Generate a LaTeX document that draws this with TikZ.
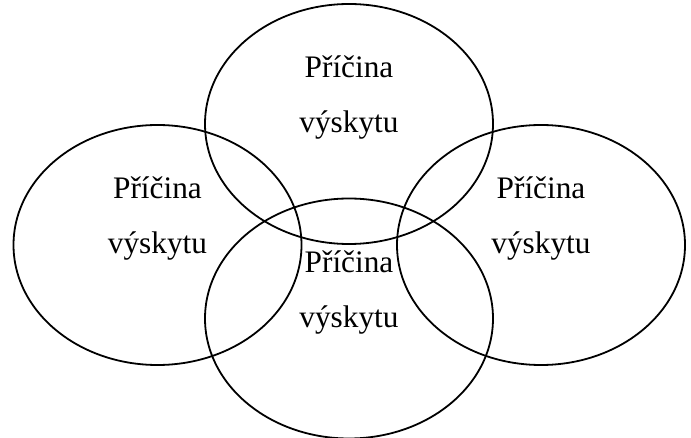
\documentclass[tikz,border=0pt]{standalone}
\usepackage{fontspec}
\setmainfont{Liberation Serif}
\usetikzlibrary{shapes.geometric}
\begin{document}
\begin{tikzpicture}[x=1pt,y=-1pt,
  oval/.style={draw, ellipse, line width=1.8pt, minimum width=288pt, minimum height=240pt, inner sep=0pt},
  lbl/.style={anchor=base, inner sep=0pt, font=\fontsize{31.3}{38}\selectfont}]
\useasboundingbox (0,0) rectangle (691,438);
\node[oval] (top) at (349,124) {};
\node[oval] (left) at (157.5,245) {};
\node[oval] (right) at (541,245) {};
\node[oval] (bottom) at (349,318.5) {};
\node[lbl] (t1) at (349,78) {Příčina};
\node[lbl] (t2) at (349,133) {výskytu};
\node[lbl] (l1) at (157.5,199) {Příčina};
\node[lbl] (l2) at (157.5,254) {výskytu};
\node[lbl] (r1) at (541,199) {Příčina};
\node[lbl] (r2) at (541,254) {výskytu};
\node[lbl] (b1) at (349,272.5) {Příčina};
\node[lbl] (b2) at (349,327.5) {výskytu};
\end{tikzpicture}
\end{document}
